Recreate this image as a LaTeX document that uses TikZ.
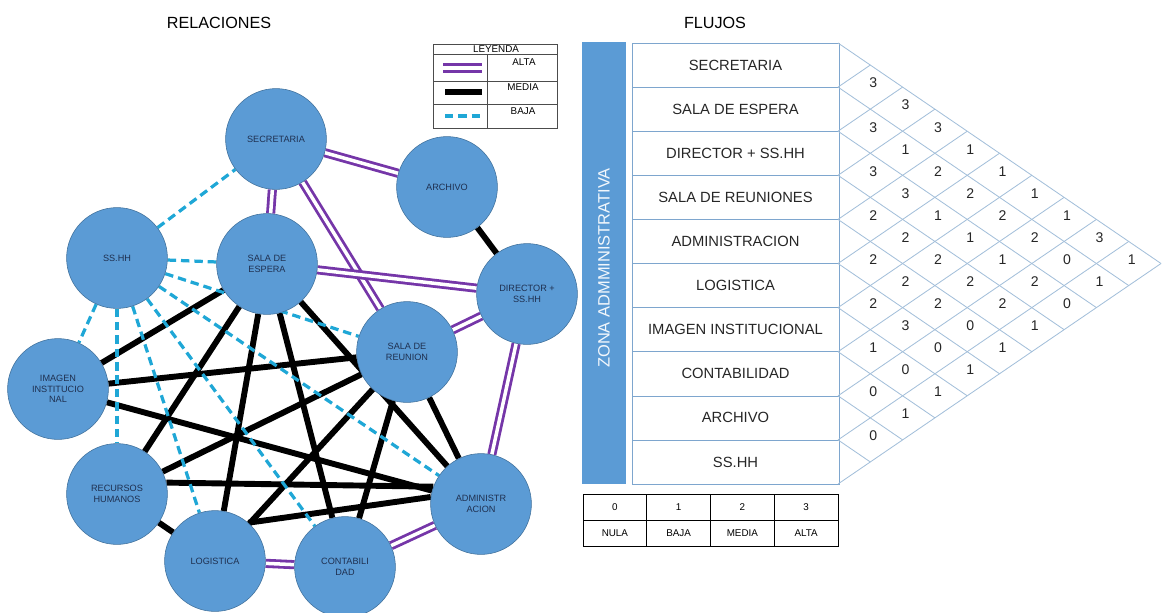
\documentclass[tikz,border=0pt]{standalone}
\usepackage{fontspec}
\setmainfont{Liberation Sans}
\usepackage{xcolor}
\usepackage{tikz}
\usetikzlibrary{backgrounds}

\definecolor{azulnodo}{HTML}{5B9BD5}
\definecolor{bordenodo}{HTML}{41719C}
\definecolor{textonodo}{HTML}{1F3050}
\definecolor{morado}{HTML}{7536A8}
\definecolor{celeste}{HTML}{1FA7D6}
\definecolor{bordetabla}{HTML}{7EA6CE}
\definecolor{lineagrid}{HTML}{A3BFDA}

\begin{document}
\begin{tikzpicture}[
    x=0.025cm, y=-0.025cm,
    area/.style={circle, draw=bordenodo, fill=azulnodo, minimum size=2.52cm, inner sep=0pt, align=center, text=textonodo, font=\fontsize{6.5}{7.5}\selectfont},
    alta/.style={draw=morado, line width=2pt, double=white, double distance=2.5pt},
    media/.style={draw=black, line width=4.2pt},
    baja/.style={draw=celeste, line width=2.3pt, dash pattern=on 6pt off 3.5pt},
    fila/.style={rectangle, draw=bordetabla, minimum width=5.175cm, minimum height=1.1025cm, font=\fontsize{10.5}{12}\selectfont, text=black!85},
    celda/.style={rectangle, draw, minimum width=1.594cm, minimum height=0.65cm, font=\fontsize{7}{8}\selectfont},
    rejilla/.style={draw=lineagrid, line width=0.6pt},
    valor/.style={font=\fontsize{10}{12}\selectfont, text=black!85},
    etiqueta/.style={font=\fontsize{7}{8}\selectfont, inner sep=0pt},
    titulo/.style={font=\fontsize{11.5}{13}\selectfont}
]
    \useasboundingbox (0,0) rectangle (1162,612);

    % Titulos
    \node[titulo] (trel) at (219,23) {RELACIONES};
    \node[titulo] (tflu) at (715,23) {FLUJOS};

    % Areas
    \node[area] (sec) at (276,139) {SECRETARIA};
    \node[area] (arch) at (447,187) {ARCHIVO};
    \node[area] (dir) at (527,294) {DIRECTOR +\\SS.HH};
    \node[area] (esp) at (267,264) {SALA DE\\ESPERA};
    \node[area] (sshh) at (117,258) {SS.HH};
    \node[area] (reun) at (407,352) {SALA DE\\REUNION};
    \node[area] (img) at (58,389) {IMAGEN\\INSTITUCIO\\NAL};
    \node[area] (rrhh) at (117,494) {RECURSOS\\HUMANOS};
    \node[area] (log) at (215,561) {LOGISTICA};
    \node[area] (cont) at (345,567) {CONTABILI\\DAD};
    \node[area] (adm) at (481,504) {ADMINISTR\\ACION};

    \begin{pgfonlayer}{background}
    % alta
    \draw[alta] (sec) -- (esp);
    \draw[alta] (sec) -- (arch);
    \draw[alta] (sec) -- (reun);
    \draw[alta] (esp) -- (dir);
    \draw[alta] (reun) -- (dir);
    \draw[alta] (dir) -- (adm);
    \draw[alta] (log) -- (cont);
    \draw[alta] (cont) -- (adm);
    % media
    \draw[media] (arch) -- (dir);
    \foreach \a in {img,rrhh,log,cont,adm} \draw[media] (esp) -- (\a);
    \foreach \a in {img,rrhh,log,cont,adm} \draw[media] (reun) -- (\a);
    \draw[media] (img) -- (adm);
    \draw[media] (rrhh.13) -- (adm.160);
    \draw[media] (log.49) -- (adm.172);
    \draw[media] (rrhh) -- (log);
    % baja
    \foreach \a in {sec,esp,reun,img,rrhh,log,cont,adm} \draw[baja] (sshh) -- (\a);
    \end{pgfonlayer}

    % Leyenda
    \draw[black!70] (433,44) rectangle (557,128);
    \draw[black!70] (433,54) -- (557,54) (433,81) -- (557,81) (433,104) -- (557,104) (487,54) -- (487,128);
    \node[etiqueta] (ley) at (496,49.5) {LEYENDA};
    \node[etiqueta] (lalta) at (524,62) {ALTA};
    \node[etiqueta] (lmedia) at (523,87) {MEDIA};
    \node[etiqueta] (lbaja) at (523,111) {BAJA};
    \draw[alta] (443,68) -- (482,68);
    \draw[media] (445,92) -- (482,92);
    \draw[baja] (445,116) -- (483,116);

    % Flujos
    \node[rectangle, fill=azulnodo, minimum width=1.1cm, minimum height=11.05cm] (zona) at (604,263) {};
    \node[rotate=90, text=white!92!azulnodo, font=\fontsize{11.7}{13}\selectfont] (zonatxt) at (604,268) {ZONA ADMMINISTRATIVA};
    \foreach \nombre [count=\k] in {SECRETARIA, SALA DE ESPERA, DIRECTOR + SS.HH, SALA DE REUNIONES, ADMINISTRACION, LOGISTICA, IMAGEN INSTITUCIONAL, CONTABILIDAD, ARCHIVO, SS.HH}
        \node[fila] (f\k) at (735.5,{43+44.1*(\k-0.5)}) {\nombre};
    \foreach \k in {0,...,10}{
        \draw[rejilla] (838,{43+44.1*\k}) -- ++({(10-\k)*32.3},{(10-\k)*22.05});
        \draw[rejilla] (838,{43+44.1*\k}) -- ++({\k*32.3},{-\k*22.05});
    }
    \foreach \d/\vals in {1/{3,3,3,2,2,2,1,0,0}, 2/{3,1,3,2,2,3,0,1}, 3/{3,2,1,2,2,0,1}, 4/{1,2,1,2,0,1}, 5/{1,2,1,2,1}, 6/{1,2,2,1}, 7/{1,0,0}, 8/{3,1}, 9/{1}}
        \foreach \v [count=\i] in \vals
            \node[valor] (v\d-\i) at ({838+32.3*\d+3},{43+44.1*(\i+\d/2-0.5)-4}) {\v};

    % Escala
    \foreach \n/\t [count=\c] in {0/NULA, 1/BAJA, 2/MEDIA, 3/ALTA}{
        \node[celda] (n\c) at ({583+63.75*(\c-0.5)},507) {\n};
        \node[celda] (t\c) at ({583+63.75*(\c-0.5)},533) {\t};
    }
\end{tikzpicture}
\end{document}
